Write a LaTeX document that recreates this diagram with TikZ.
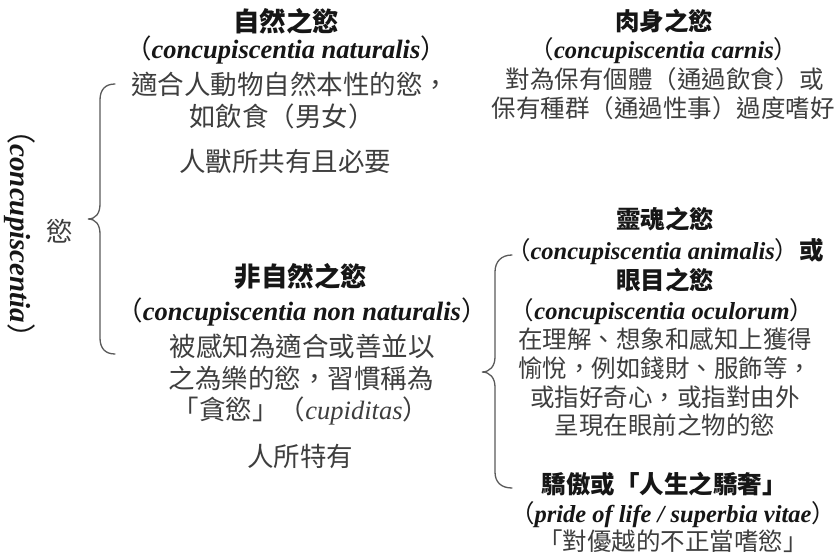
\documentclass[tikz,border=0pt]{standalone}
\usepackage{fontspec}
\setmainfont{Liberation Serif}
\newfontfamily\cjk{Noto Sans CJK TC}
\definecolor{txt}{RGB}{62,62,62}
\definecolor{ttl}{RGB}{22,22,22}
\definecolor{brc}{RGB}{90,90,90}
\newcommand\lat[1]{{\rmfamily\bfseries\itshape #1}}
\newcommand\latit[1]{{\rmfamily\itshape #1}}
\newcommand\zkL{{\cjk\mdseries （}}
\newcommand\zkR{{\cjk\mdseries ）}}
\begin{document}
\begin{tikzpicture}[x=1pt,y=-1pt,
  Lt/.style={anchor=base, inner sep=0pt, text=txt, font=\cjk\fontsize{26.5}{30}\selectfont},
  Lb/.style={Lt, text=ttl, font=\cjk\fontsize{26.5}{30}\selectfont\bfseries},
  Rt/.style={anchor=base, inner sep=0pt, text=txt, font=\cjk\fontsize{24.5}{28}\selectfont},
  Rb/.style={Rt, text=ttl, font=\cjk\fontsize{24.5}{28}\selectfont\bfseries},
  brace/.style={draw=brc, line width=1.3pt, line cap=round}]
\useasboundingbox (0,0) rectangle (838,556);
\fill[white] (0,0) rectangle (838,556);

% vertical title
\node[rotate=-90, inner sep=0pt, text=ttl, font=\cjk\fontsize{29}{32}\selectfont\bfseries] (vt) at (20,234) {\zkL\lat{concupiscentia}\zkR};
\node[inner sep=0pt, text=txt, font=\cjk\fontsize{26.5}{30}\selectfont] (yu) at (60,231) {慾};

% left brace
\coordinate (lbT) at (115,84);
\coordinate (lbM) at (88,219);
\coordinate (lbB) at (115,354);
\draw[brace] (lbT) .. controls (105,84) and (100,90) .. (100,100) -- (100,204)
  .. controls (100,213) and (96,219) .. (lbM)
  .. controls (96,219) and (100,225) .. (100,234) -- (100,338)
  .. controls (100,348) and (105,354) .. (lbB);

% right brace
\coordinate (rbT) at (512,255);
\coordinate (rbM) at (482,372);
\coordinate (rbB) at (512,488);
\draw[brace] (rbT) .. controls (501,255) and (495,262) .. (495,272) -- (495,357)
  .. controls (495,366) and (490,372) .. (rbM)
  .. controls (490,372) and (495,378) .. (495,387) -- (495,472)
  .. controls (495,482) and (501,488) .. (rbB);

% natural concupiscence
\node[Lb] (n1) at (286,32) {自然之慾};
\node[Lb] (n2) at (286,59) {\zkL\lat{concupiscentia naturalis}\zkR};
\node[Lt] (n3) at (290,95) {適合人動物自然本性的慾，};
\node[Lt] (n4) at (282,127) {如飲食（男女）};
\node[Lt] (n5) at (285,172) {人獸所共有且必要};

% concupiscence of the flesh
\node[Rb] (c1) at (664,31) {肉身之慾};
\node[Rb] (c2) at (664,59) {\zkL\lat{concupiscentia carnis}\zkR};
\node[Rt] (c3) at (665,89) {對為保有個體（通過飲食）或};
\node[Rt] (c4) at (663,118) {保有種群（通過性事）過度嗜好};

% non-natural concupiscence
\node[Lb] (u1) at (301,287) {非自然之慾};
\node[Lb] (u2) at (302,320) {\zkL\lat{concupiscentia non naturalis}\zkR};
\node[Lt] (u3) at (302,356) {被感知為適合或善並以};
\node[Lt] (u4) at (301,388) {之為樂的慾，習慣稱為};
\node[Lt] (u5) at (301,419) {「貪慾」（\latit{cupiditas}）};
\node[Lt] (u6) at (300,466) {人所特有};

% concupiscence of the soul / eyes
\node[Rb] (s1) at (665,229) {靈魂之慾};
\node[Rb] (s2) at (665,259) {\zkL\lat{concupiscentia animalis}\zkR{}或};
\node[Rb] (s3) at (665,289) {眼目之慾};
\node[Rb] (s4) at (662,319) {\zkL\lat{concupiscentia oculorum}\zkR};
\node[Rt] (s5) at (665,348) {在理解、想象和感知上獲得};
\node[Rt] (s6) at (665,377) {愉悅，例如錢財、服飾等，};
\node[Rt] (s7) at (665,406) {或指好奇心，或指對由外};
\node[Rt] (s8) at (665,434) {呈現在眼前之物的慾};

% pride of life
\node[Rb] (p1) at (664,493) {驕傲或「人生之驕奢」};
\node[Rb] (p2) at (673,522) {\zkL\lat{pride of life / superbia vitae}\zkR};
\node[Rt] (p3) at (673,550) {「對優越的不正當嗜慾」};
\end{tikzpicture}
\end{document}
